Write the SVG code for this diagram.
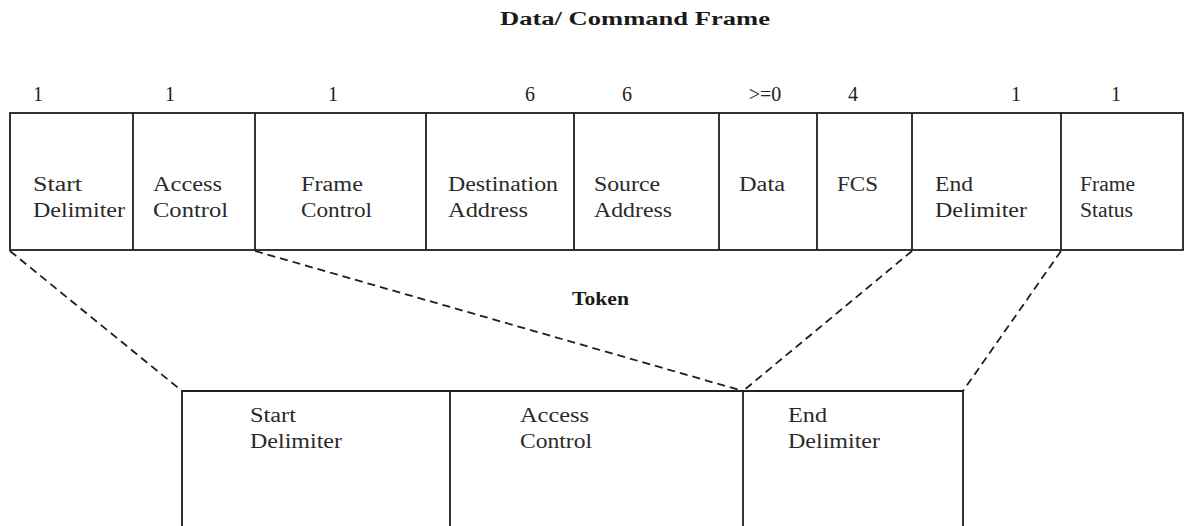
<svg xmlns="http://www.w3.org/2000/svg" width="1184" height="526" viewBox="0 0 1184 526">
  <style>
    .frame { fill: none; stroke: #1e1e1e; stroke-width: 1.8; }
    .div { stroke: #1e1e1e; stroke-width: 1.8; }
    .lbl { font-family: "Liberation Serif", "Times New Roman", serif; font-size: 20px; fill: #2a2a2a; }
    .num { font-family: "Liberation Serif", "Times New Roman", serif; font-size: 20px; fill: #222; text-anchor: middle; }
    .ttl { font-family: "Liberation Serif", "Times New Roman", serif; font-size: 18px; font-weight: bold; fill: #1a1a1a; }
    .dash { fill: none; stroke: #1e1e1e; stroke-width: 1.8; stroke-dasharray: 8 5; }
  </style>

  <rect width="1184" height="526" fill="#ffffff"/>

  <!-- titles -->
  <text class="ttl" x="500" y="25" textLength="270" lengthAdjust="spacingAndGlyphs">Data/ Command Frame</text>
  <text class="ttl" x="572" y="305" textLength="57" lengthAdjust="spacingAndGlyphs">Token</text>

  <!-- field sizes in bytes -->
  <g id="sizes">
    <text class="num" x="38" y="101">1</text>
    <text class="num" x="170" y="101">1</text>
    <text class="num" x="333" y="101">1</text>
    <text class="num" x="530" y="101">6</text>
    <text class="num" x="627" y="101">6</text>
    <text class="num" x="765" y="101">&gt;=0</text>
    <text class="num" x="853" y="101">4</text>
    <text class="num" x="1016" y="101">1</text>
    <text class="num" x="1116" y="101">1</text>
  </g>

  <!-- data / command frame -->
  <g id="frame">
    <rect class="frame" x="10" y="113" width="1173" height="137"/>
    <g id="f-start-delimiter">
      <line class="div" x1="133" y1="113" x2="133" y2="250"/>
      <text class="lbl" x="33" y="191" textLength="49" lengthAdjust="spacingAndGlyphs">Start</text>
      <text class="lbl" x="33" y="217" textLength="92" lengthAdjust="spacingAndGlyphs">Delimiter</text>
    </g>
    <g id="f-access-control">
      <line class="div" x1="255" y1="113" x2="255" y2="250"/>
      <text class="lbl" x="153" y="191" textLength="69" lengthAdjust="spacingAndGlyphs">Access</text>
      <text class="lbl" x="153" y="217" textLength="75" lengthAdjust="spacingAndGlyphs">Control</text>
    </g>
    <g id="f-frame-control">
      <line class="div" x1="426" y1="113" x2="426" y2="250"/>
      <text class="lbl" x="301" y="191" textLength="62" lengthAdjust="spacingAndGlyphs">Frame</text>
      <text class="lbl" x="301" y="217" textLength="71" lengthAdjust="spacingAndGlyphs">Control</text>
    </g>
    <g id="f-destination">
      <line class="div" x1="574" y1="113" x2="574" y2="250"/>
      <text class="lbl" x="448" y="191" textLength="110" lengthAdjust="spacingAndGlyphs">Destination</text>
      <text class="lbl" x="448" y="217" textLength="80" lengthAdjust="spacingAndGlyphs">Address</text>
    </g>
    <g id="f-source">
      <line class="div" x1="719" y1="113" x2="719" y2="250"/>
      <text class="lbl" x="594" y="191" textLength="66" lengthAdjust="spacingAndGlyphs">Source</text>
      <text class="lbl" x="594" y="217" textLength="78" lengthAdjust="spacingAndGlyphs">Address</text>
    </g>
    <g id="f-data">
      <line class="div" x1="817" y1="113" x2="817" y2="250"/>
      <text class="lbl" x="739" y="191" textLength="46" lengthAdjust="spacingAndGlyphs">Data</text>
    </g>
    <g id="f-fcs">
      <line class="div" x1="912" y1="113" x2="912" y2="250"/>
      <text class="lbl" x="837" y="191" textLength="41" lengthAdjust="spacingAndGlyphs">FCS</text>
    </g>
    <g id="f-end-delimiter">
      <line class="div" x1="1061" y1="113" x2="1061" y2="250"/>
      <text class="lbl" x="935" y="191" textLength="38" lengthAdjust="spacingAndGlyphs">End</text>
      <text class="lbl" x="935" y="217" textLength="92" lengthAdjust="spacingAndGlyphs">Delimiter</text>
    </g>
    <g id="f-frame-status">
      <text class="lbl" x="1080" y="191" textLength="55" lengthAdjust="spacingAndGlyphs">Frame</text>
      <text class="lbl" x="1080" y="217" textLength="53" lengthAdjust="spacingAndGlyphs">Status</text>
    </g>
  </g>

  <!-- token frame (open at the bottom) -->
  <g id="token">
    <path class="frame" d="M182,526 V391 H963 V526"/>
    <g id="t-start-delimiter">
      <text class="lbl" x="250" y="422" textLength="46" lengthAdjust="spacingAndGlyphs">Start</text>
      <text class="lbl" x="250" y="448" textLength="92" lengthAdjust="spacingAndGlyphs">Delimiter</text>
    </g>
    <g id="t-access-control">
      <line class="div" x1="450" y1="391" x2="450" y2="526"/>
      <text class="lbl" x="520" y="422" textLength="69" lengthAdjust="spacingAndGlyphs">Access</text>
      <text class="lbl" x="520" y="448" textLength="72" lengthAdjust="spacingAndGlyphs">Control</text>
    </g>
    <g id="t-end-delimiter">
      <line class="div" x1="743" y1="391" x2="743" y2="526"/>
      <text class="lbl" x="788" y="422" textLength="39" lengthAdjust="spacingAndGlyphs">End</text>
      <text class="lbl" x="788" y="448" textLength="92" lengthAdjust="spacingAndGlyphs">Delimiter</text>
    </g>
  </g>

  <!-- projection lines from frame fields to token fields -->
  <g id="connectors">
    <line class="dash" x1="10" y1="251" x2="182" y2="391"/>
    <line class="dash" x1="255" y1="251" x2="743" y2="391"/>
    <line class="dash" x1="912" y1="251" x2="743" y2="391"/>
    <line class="dash" x1="1061" y1="251" x2="963" y2="391"/>
  </g>
</svg>
